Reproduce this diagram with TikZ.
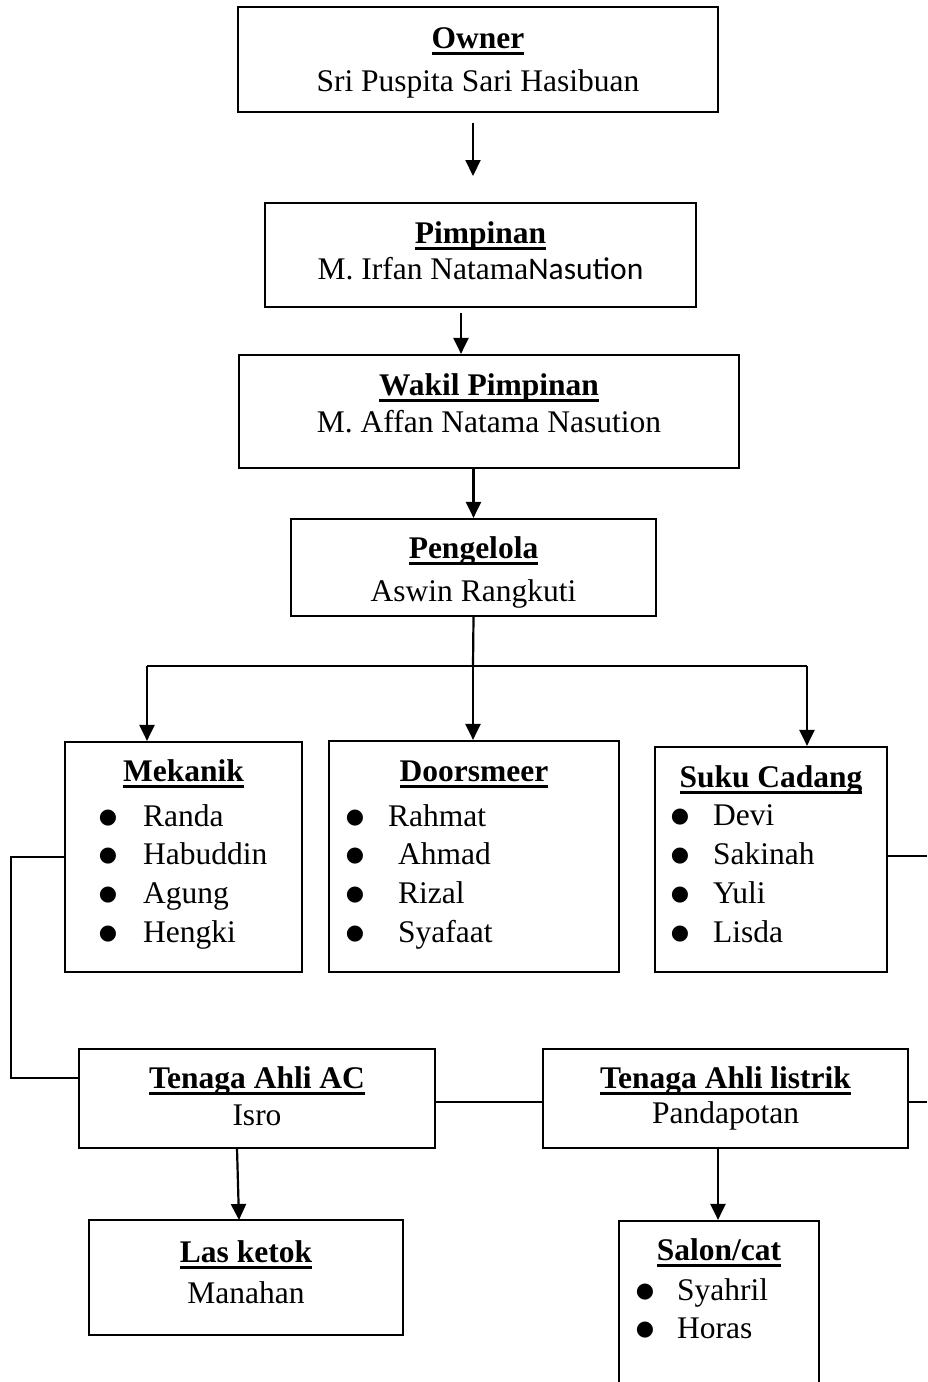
\documentclass[tikz,border=0pt]{standalone}
\usepackage{fontspec}
\setmainfont{Liberation Serif}
\newfontfamily\calib{Carlito}
\newfontfamily\dv{DejaVu Sans}
\usetikzlibrary{arrows.meta}
\newcommand\mainsz{\fontsize{31.5}{38}\selectfont}
\newcommand\myul[1]{\setbox0\hbox{#1}\rlap{\rule[-7pt]{\wd0}{3.2pt}}\box0}
\newcommand\ttl[1]{\myul{\textbf{#1}}}
\newcommand\bulsym{\raisebox{2.4pt}{\fontsize{21}{21}\dv ●}}
\newcommand\bulg[1]{\llap{\bulsym\hspace{#1pt}}}
\tikzset{
  box/.style={draw, line width=2.2pt, rectangle, inner sep=0pt},
  txt/.style={inner sep=0pt, font=\mainsz, anchor=base},
  itm/.style={inner sep=0pt, font=\mainsz, anchor=base west},
  conn/.style={line width=2.2pt},
  arr/.style={line width=2.2pt, -{Triangle[width=15pt,length=16pt]}},
}
\begin{document}
\begin{tikzpicture}[x=1pt,y=-1pt]
\useasboundingbox (0,0) rectangle (927,1382);
\clip (0,0) rectangle (927,1382);
% boxes
\node[box, minimum width=480, minimum height=105] (owner) at (478,59.5) {};
\node[box, minimum width=431, minimum height=104] (pimp) at (480.5,255) {};
\node[box, minimum width=500, minimum height=113] (wakil) at (489,411.5) {};
\node[box, minimum width=365, minimum height=97] (peng) at (473.5,567.5) {};
\node[box, minimum width=237, minimum height=230] (mek) at (183.5,857) {};
\node[box, minimum width=290, minimum height=231] (door) at (474,856.5) {};
\node[box, minimum width=232, minimum height=225] (suku) at (771,859.5) {};
\node[box, minimum width=356, minimum height=99] (ac) at (257,1098.5) {};
\node[box, minimum width=365, minimum height=99] (lis) at (725.5,1098.5) {};
\node[box, minimum width=314, minimum height=115] (las) at (246,1277.5) {};
\node[box, minimum width=200, minimum height=200] (salon) at (719,1321) {};
% texts
\node[txt] (t-owner) at (478,48) {\ttl{Owner}};
\node[txt] (n-owner) at (478,91) {Sri Puspita Sari Hasibuan};
\node[txt] (t-pimp) at (480.5,243) {\ttl{Pimpinan}};
\node[txt] (n-pimp) at (480.5,279) {M. Irfan Natama{\calib Nasution}};
\node[txt] (t-wakil) at (489,395) {\ttl{Wakil Pimpinan}};
\node[txt] (n-wakil) at (489,432) {M. Affan Natama Nasution};
\node[txt] (t-peng) at (473.5,558) {\ttl{Pengelola}};
\node[txt] (n-peng) at (473.5,601) {Aswin Rangkuti};
\node[txt] (t-mek) at (183.5,781) {\ttl{Mekanik}};
\node[itm] (m1) at (143,826) {\bulg{26}Randa};
\node[itm] (m2) at (143,864) {\bulg{26}Habuddin};
\node[itm] (m3) at (143,903) {\bulg{26}Agung};
\node[itm] (m4) at (143,942) {\bulg{26}Hengki};
\node[txt] (t-door) at (474,781) {\ttl{Doorsmeer}};
\node[itm] (d1) at (388,826) {\bulg{24}Rahmat};
\node[itm] (d2) at (398,864) {\bulg{34}Ahmad};
\node[itm] (d3) at (398,903) {\bulg{34}Rizal};
\node[itm] (d4) at (398,942) {\bulg{34}Syafaat};
\node[txt] (t-suku) at (771,787) {\ttl{Suku Cadang}};
\node[itm] (s1) at (713,825) {\bulg{24}Devi};
\node[itm] (s2) at (713,864) {\bulg{24}Sakinah};
\node[itm] (s3) at (713,903) {\bulg{24}Yuli};
\node[itm] (s4) at (713,942) {\bulg{24}Lisda};
\node[txt] (t-ac) at (257,1088) {\ttl{Tenaga Ahli AC}};
\node[txt] (n-ac) at (257,1125) {Isro};
\node[txt] (t-lis) at (725.5,1088) {\ttl{Tenaga Ahli listrik}};
\node[txt] (n-lis) at (725.5,1123) {Pandapotan};
\node[txt] (t-las) at (246,1262) {\ttl{Las ketok}};
\node[txt] (n-las) at (246,1303) {Manahan};
\node[txt] (t-salon) at (719,1260) {\ttl{Salon/cat}};
\node[itm] (c1) at (677,1300) {\bulg{23}Syahril};
\node[itm] (c2) at (677,1338) {\bulg{23}Horas};
% connector coordinates
\coordinate (a1) at (473,123);
\coordinate (a2) at (473,176);
\coordinate (b1) at (461,313);
\coordinate (jn) at (473,666);
\coordinate (jl) at (147,666);
\coordinate (jr) at (807,666);
\coordinate (redge) at (927,856);
\coordinate (lx) at (11,857);
\coordinate (ly) at (11,1078);
\coordinate (redge2) at (927,1102);
\coordinate (e1) at (237,1148);
\coordinate (e2) at (239,1220);
% connectors
\draw[arr] (a1) -- (a2);
\draw[arr] (b1) -- (b1 |- wakil.north);
\draw[arr] (peng.north |- wakil.south) -- (peng.north);
\draw[conn] (peng.south) -- (jn);
\draw[conn] (jl) -- (jr);
\draw[arr] (jl) -- (jl |- mek.north);
\draw[arr] (jn) -- (jn |- door.north);
\draw[arr] (jr) -- (jr |- suku.north);
\draw[conn] (suku.east |- redge) -- (redge);
\draw[conn] (mek.west |- lx) -- (lx) -- (ly) -- (ac.west |- ly);
\draw[conn] (ac.east |- redge2) -- (lis.west |- redge2);
\draw[conn] (lis.east |- redge2) -- (redge2);
\draw[arr] (e1) -- (e2);
\draw[arr] (lis.south -| 718,0) -- (salon.north -| 718,0);
\end{tikzpicture}
\end{document}
